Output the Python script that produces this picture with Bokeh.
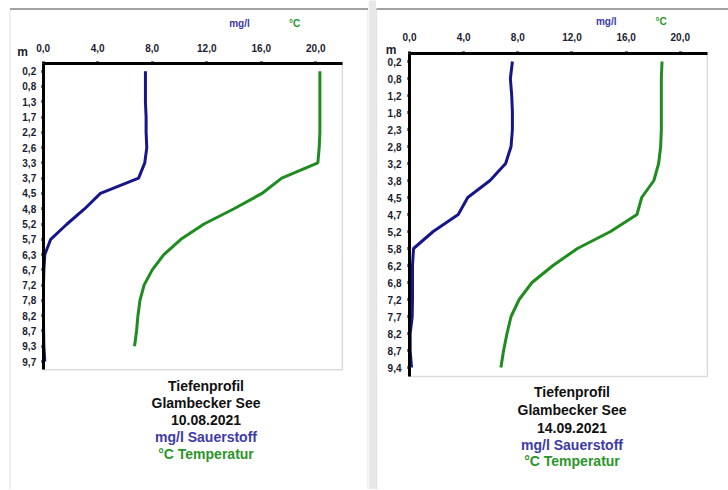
from bokeh.plotting import figure
from bokeh.models import Range1d, FixedTicker, BoxAnnotation
from bokeh.layouts import row
from bokeh.core.properties import value
from bokeh.embed import file_html
from bokeh.resources import INLINE

# ---------------- data ----------------
depth_labels_1 = ["0,2", "0,8", "1,3", "1,7", "2,2", "2,6", "3,3", "3,7", "4,5", "4,8",
                  "5,2", "5,7", "6,3", "6,7", "7,2", "7,8", "8,2", "8,7", "9,3", "9,7"]
oxygen_1 = [7.5, 7.5, 7.5, 7.55, 7.55, 7.6, 7.45, 7.0, 4.2, 3.05, 1.75, 0.55, 0.12, 0.05,
            0.02, 0.02, 0.02, 0.03, 0.05, 0.12]
temp_1 = [20.3, 20.3, 20.3, 20.3, 20.3, 20.25, 20.15, 17.5, 16.05, 14.0, 11.8, 10.1, 8.85,
          8.0, 7.4, 7.1, 6.95, 6.85, 6.7]
title_1 = ["Tiefenprofil", "Glambecker See", "10.08.2021", "mg/l Sauerstoff", "°C Temperatur"]

depth_labels_2 = ["0,2", "0,8", "1,2", "1,8", "2,3", "2,8", "3,2", "3,8", "4,5", "4,7",
                  "5,2", "5,8", "6,2", "6,8", "7,2", "7,7", "8,2", "8,7", "9,4"]
oxygen_2 = [7.6, 7.45, 7.55, 7.6, 7.6, 7.5, 7.1, 5.95, 4.3, 3.6, 1.75, 0.3, 0.22, 0.22,
            0.22, 0.2, 0.05, 0.05, 0.15]
temp_2 = [18.65, 18.6, 18.6, 18.6, 18.6, 18.55, 18.4, 18.05, 17.15, 16.8, 14.85, 12.4,
          10.6, 9.05, 8.1, 7.5, 7.2, 6.95, 6.75]
title_2 = ["Tiefenprofil", "Glambecker See", "14.09.2021", "mg/l Sauerstoff", "°C Temperatur"]

x_ticks = [0, 4, 8, 12, 16, 20]
x_tick_labels = ["0,0", "4,0", "8,0", "12,0", "16,0", "20,0"]
unit_labels = ["mg/l", "°C"]

BLUE = "#16168a"
GREEN = "#1f8c1f"
BLUE_TXT = "#3d3aa8"
GREEN_TXT = "#2a962a"
LABEL_C = "#1c1c30"
FONT = "Liberation Sans"
H = 489


def make_panel(labels, oxy, temp, titles, cfg):
    # cfg holds page-pixel layout; helpers turn page pixels into data space
    fx0, fx1 = cfg["fig_x"]
    X = lambda px: (px - cfg["x0"]) / cfg["sx"]
    Y = lambda py: (py - cfg["y0"]) / cfg["sy"]
    n = len(labels)
    x_end = cfg["x_end"]
    y_top, y_bot = Y(cfg["frame_top"]), Y(cfg["frame_bottom"])

    p = figure(width=fx1 - fx0, height=H, output_backend="svg", toolbar_location=None,
               x_range=Range1d(X(fx0), X(fx1)), y_range=Range1d(Y(H), Y(0)),
               x_axis_location="above",
               min_border_left=0, min_border_right=0, min_border_top=0, min_border_bottom=0)
    p.grid.visible = False
    p.background_fill_color = "white"
    p.border_fill_color = "white"
    p.outline_line_color = None

    # gap band / panel border
    if "band" in cfg:
        b0, b1 = cfg["band"]
        p.add_layout(BoxAnnotation(left=X(b0), right=X(b1), top=Y(-5), bottom=Y(H + 20),
                                   fill_color="#e8e8e8", fill_alpha=1, line_color=None,
                                   level="underlay"))
    l, r = cfg["panel_x"]
    p.add_layout(BoxAnnotation(left=X(l), right=X(r), top=Y(cfg["panel_top"]),
                               bottom=Y(H + 40), fill_color=None, fill_alpha=0,
                               line_color="#9a9a9a", line_width=1, level="underlay"))
    p.add_layout(BoxAnnotation(left=X(l), right=X(r), top=Y(cfg["panel_top"] - 0.5),
                               bottom=Y(cfg["panel_top"] + 0.6), fill_color="#555555",
                               fill_alpha=1, line_color=None, level="underlay"))
    # plot-area outline (right / bottom visible as grey)
    p.add_layout(BoxAnnotation(left=0, right=x_end, top=y_top, bottom=y_bot,
                               fill_color=None, fill_alpha=0, line_color="#8a8a8a",
                               line_width=1.5, level="underlay"))

    xa = p.xaxis[0]
    xa.ticker = FixedTicker(ticks=x_ticks)
    xa.major_label_overrides = {t: s for t, s in zip(x_ticks, x_tick_labels)}
    xa.bounds = (0, x_end)
    xa.fixed_location = y_top
    ya = p.yaxis[0]
    ya.ticker = FixedTicker(ticks=list(range(n)))
    ya.major_label_overrides = {i: s for i, s in enumerate(labels)}
    ya.bounds = (y_top, y_bot)
    ya.fixed_location = 0
    for ax in (xa, ya):
        ax.axis_line_color = "black"
        ax.axis_line_width = 3
        ax.major_tick_line_color = "black"
        ax.major_tick_line_width = 3
        ax.major_tick_in = 0
        ax.major_tick_out = 2
        ax.minor_tick_line_color = None
        ax.major_label_text_font = FONT
        ax.major_label_text_font_style = "bold"
        ax.major_label_text_font_size = "10px"
        ax.major_label_text_color = LABEL_C
    xa.major_label_standoff = cfg["xstd"]
    ya.major_label_standoff = cfg["ystd"]

    p.line(oxy, list(range(len(oxy))), line_color=BLUE, line_width=3)
    p.line(temp, list(range(len(temp))), line_color=GREEN, line_width=3)

    # unit texts above the axis
    p.text(x=[X(cfg["mgl_x"]), X(cfg["c_x"])], y=[Y(cfg["unit_y"])] * 2, text=unit_labels,
           text_color=[BLUE_TXT, GREEN_TXT], text_font=value(FONT), text_font_style="bold",
           text_font_size="10px", text_align="center", text_baseline="middle")
    p.text(x=[X(cfg["m_x"])], y=[Y(cfg["m_y"])], text=["m"], text_color=LABEL_C,
           text_font=value(FONT), text_font_style="bold", text_font_size="12px",
           text_align="center", text_baseline="middle")
    # caption
    ty = [Y(v) for v in cfg["title_y"]]
    p.text(x=[X(cfg["title_x"])] * len(titles), y=ty, text=titles,
           text_color=["#111111", "#111111", "#111111", BLUE_TXT, GREEN_TXT],
           text_font=value(FONT), text_font_style="bold", text_font_size="14px",
           text_align="center", text_baseline="middle")
    return p


p1 = make_panel(depth_labels_1, oxygen_1, temp_1, title_1, dict(
    fig_x=(0, 368), x0=42.7, sx=13.63, y0=70.7, sy=15.28, x_end=21.95,
    frame_top=62.7, frame_bottom=369.3, xstd=9, ystd=5,
    panel_x=(9.5, 367.5), panel_top=8.5,
    mgl_x=239, c_x=294, unit_y=23, m_x=22, m_y=51.5,
    title_x=205.5, title_y=[385, 402, 419.5, 436.5, 453]))
p2 = make_panel(depth_labels_2, oxygen_2, temp_2, title_2, dict(
    fig_x=(368, 728), x0=409.0, sx=13.54, y0=61.0, sy=17.0, x_end=22.0,
    frame_top=52.5, frame_bottom=376.0, xstd=10, ystd=6,
    band=(368, 375.5), panel_x=(376, 740), panel_top=8.5,
    mgl_x=605.7, c_x=660.7, unit_y=20.7, m_x=390.5, m_y=49.3,
    title_x=571.5, title_y=[391.7, 409.5, 427, 444, 460.5]))

layout = row(p1, p2, spacing=0)

open("out.html", "w").write(file_html(layout, INLINE))
